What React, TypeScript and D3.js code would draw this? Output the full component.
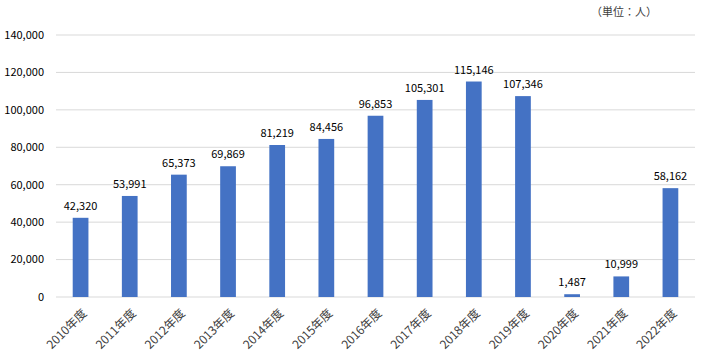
import React from "react";
import * as d3 from "d3";

const categories = ["2010年度","2011年度","2012年度","2013年度","2014年度","2015年度","2016年度","2017年度","2018年度","2019年度","2020年度","2021年度","2022年度"];
const values = [42320,53991,65373,69869,81219,84456,96853,105301,115146,107346,1487,10999,58162];
const yTicks = [0,20000,40000,60000,80000,100000,120000,140000];
const unitLabel = "（単位：人）";

export default function App() {
  const W = 703, H = 356;
  const left = 56, right = 695, top = 35, bottom = 297;
  const x = d3.scaleBand<string>().domain(categories).range([left, right]).paddingInner(0.68).paddingOuter(0.34);
  const y = d3.scaleLinear().domain([0, 140000]).range([bottom, top]);
  const fmt = d3.format(",");
  const font = "'Noto Sans CJK JP', 'Noto Sans', sans-serif";
  return (
    <svg width={W} height={H} style={{ position: "absolute", left: 0, top: 0 }} fontFamily={font}>
      <rect width={W} height={H} fill="#fff" />
      <text x={657} y={16} fontSize={11} fill="#404040" textAnchor="end">{unitLabel}</text>
      {yTicks.map(t => (
        <g key={t}>
          <line x1={left} x2={right} y1={y(t)} y2={y(t)} stroke="#d9d9d9" strokeWidth={1} />
          <text x={44} y={y(t)} dy="0.35em" fontSize={11} textAnchor="end" fill="#000">{fmt(t)}</text>
        </g>
      ))}
      {categories.map((c, i) => {
        const bx = x(c)!;
        const cx = bx + x.bandwidth() / 2;
        return (
          <g key={c}>
            <rect x={bx} y={y(values[i])} width={x.bandwidth()} height={bottom - y(values[i])} fill="#4472C4" />
            <text x={cx} y={y(values[i]) - 8} fontSize={11} textAnchor="middle" fill="#000">{fmt(values[i])}</text>
            <text transform={`translate(${cx + 4},${bottom + 14}) rotate(-45)`} fontSize={12} textAnchor="end" dy="0.35em" fill="#404040">{c}</text>
          </g>
        );
      })}
    </svg>
  );
}
